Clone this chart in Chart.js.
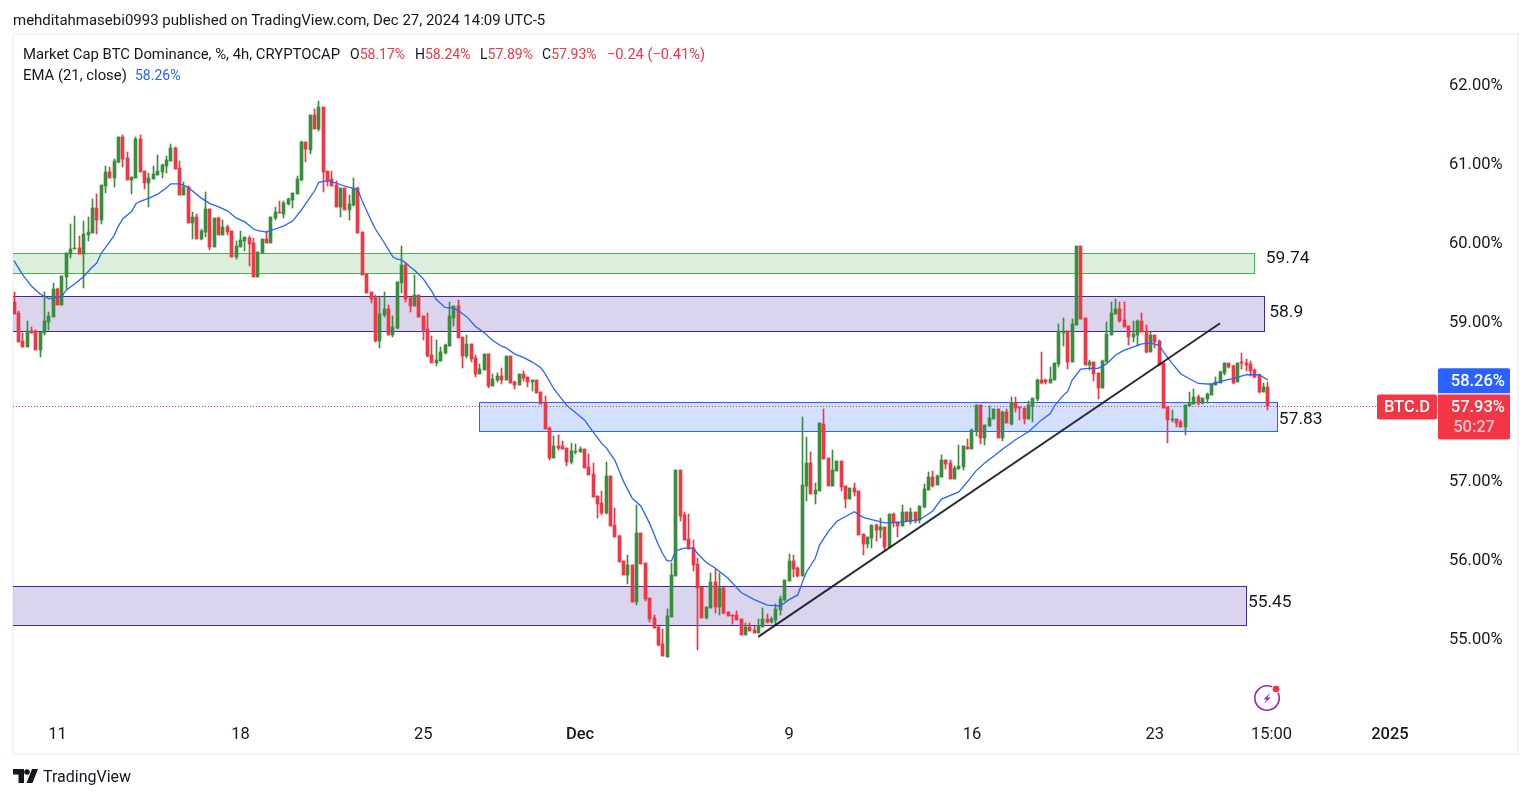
<!DOCTYPE html>
<html>
<head>
<meta charset="utf-8">
<title>BTC.D</title>
<script src="https://cdn.jsdelivr.net/npm/chart.js@4"></script>
<style>
    html, body { margin: 0; padding: 0; background: #fff; }
    body { width: 1530px; height: 798px; overflow: hidden; position: relative; font-family: Roboto, sans-serif; color: #131722; }
    #frame { position: absolute; left: 12px; top: 33px; width: 1503px; height: 718px; border: 2px solid #f0f3fa; }
    #wrap { position: absolute; left: 0; top: 0; width: 1530px; height: 798px; }
    .t { position: absolute; white-space: nowrap; font-size: 14px; line-height: 18px; }
    .red { color: #f23645; }
    .blue { color: #2962ff; }
    svg { position: absolute; }
</style>
</head>
<body>
<div id="frame"></div>
<div id="wrap"><canvas id="chart"></canvas></div>

<div class="t" style="left:13px;top:11px;font-size:15px">mehditahmasebi0993 published on TradingView.com, Dec 27, 2024 14:09 UTC-5</div>
<div class="t" style="left:23px;top:45px;font-size:14.85px">Market Cap BTC Dominance, %, 4h, CRYPTOCAP</div>
<div class="t" style="left:350px;top:45px">O<span class="red">58.17%</span></div>
<div class="t" style="left:415px;top:45px">H<span class="red">58.24%</span></div>
<div class="t" style="left:480px;top:45px">L<span class="red">57.89%</span></div>
<div class="t" style="left:542px;top:45px">C<span class="red">57.93%</span></div>
<div class="t red" style="left:607px;top:45px;font-size:14.6px">−0.24 (−0.41%)</div>
<div class="t" style="left:23px;top:66px;font-size:14.85px">EMA (21, close)</div>
<div class="t blue" style="left:135px;top:66px">58.26%</div>
<div class="t" style="left:43px;top:767px;font-size:16px;line-height:20px">TradingView</div>

<!-- TradingView logo -->
<svg style="left:13px;top:769px" width="25" height="14" viewBox="0 0 25 14">
    <path fill="#131722" d="M0 0h11v14H5.5V5.5H0z"/>
    <circle fill="#131722" cx="14" cy="3" r="2.8"/>
    <path fill="#131722" d="M19 0h6l-5.5 14h-6z"/>
</svg>
<!-- bolt badge -->
<svg style="left:1253px;top:683px" width="30" height="30" viewBox="0 0 30 30">
    <circle cx="14" cy="15" r="12.2" fill="none" stroke="#9c27b0" stroke-width="1.6"/>
    <path fill="#9c27b0" d="M17.5 9.5l-7 7h3.2l-3 4.5 7-6.5h-3.2z"/>
    <circle cx="23" cy="6" r="4" fill="#f23645" stroke="#fff" stroke-width="1"/>
</svg>

<script>
// 4h candles
const opens = [
    59.25,59.11,58.76,58.68,58.88,58.88,58.64,58.86,59.00,59.06,
    59.41,59.21,59.56,59.85,59.92,59.93,59.85,60.09,60.12,60.43,
    60.28,60.71,60.89,60.81,61.02,61.33,61.07,60.79,60.81,61.31,
    60.90,60.75,60.80,60.85,60.89,60.97,61.03,61.19,60.94,60.60,
    60.70,60.25,60.32,60.04,60.13,60.42,59.94,60.31,60.09,60.20,
    60.14,59.82,59.94,60.02,60.06,59.99,59.56,59.87,60.04,59.99,
    60.31,60.38,60.36,60.49,60.54,60.61,60.79,61.27,61.17,61.61,
    61.43,61.71,60.90,60.80,60.73,60.45,60.69,60.41,60.47,60.69,
    60.13,59.60,59.37,59.30,58.76,59.09,59.16,58.83,58.92,59.49,
    59.72,59.30,59.20,59.34,59.07,58.91,58.58,58.48,58.50,58.60,
    58.69,59.05,59.20,58.81,58.57,58.72,58.54,58.34,58.39,58.59,
    58.19,58.26,58.31,58.26,58.57,58.24,58.20,58.34,58.30,58.24,
    58.26,58.11,57.97,57.66,57.28,57.43,57.43,57.41,57.23,57.36,
    57.36,57.39,57.17,57.08,56.80,56.71,56.58,57.05,56.43,56.29,
    55.98,55.80,55.93,55.46,56.33,55.95,55.51,55.26,55.15,54.93,
    54.77,55.27,55.79,57.13,56.56,56.26,56.14,55.94,55.65,55.26,
    55.39,55.71,55.40,55.64,55.34,55.30,55.30,55.25,55.05,55.15,
    55.11,55.07,55.15,55.25,55.21,55.23,55.36,55.49,55.73,55.98,
    55.89,55.79,56.93,57.22,56.83,56.86,57.71,57.28,56.93,57.12,
    57.24,56.93,56.76,56.90,56.86,56.32,56.19,56.27,56.43,56.37,
    56.41,56.15,56.57,56.47,56.42,56.60,56.48,56.60,56.50,56.66,
    56.88,57.04,56.94,57.04,57.25,57.22,57.01,57.14,57.17,57.42,
    57.39,57.62,57.95,57.53,57.68,57.77,57.90,57.53,57.86,57.71,
    57.97,57.92,57.91,57.77,57.94,58.02,58.26,58.26,58.23,58.26,
    58.47,58.86,58.88,58.49,58.96,59.96,59.05,58.45,58.49,58.35,
    58.16,58.49,58.83,59.10,59.16,59.02,58.95,58.81,58.83,59.01,
    58.88,58.62,58.83,58.76,58.48,57.92,57.76,57.77,57.73,57.67,
    57.94,57.96,58.05,57.97,58.02,58.07,58.20,58.23,58.35,58.48,
    58.44,58.24,58.49,58.48,58.47,58.39,58.33,58.11,58.17
];
const highs = [
    59.38,59.13,58.86,59.01,58.93,58.89,58.87,59.38,59.12,59.49,
    59.42,59.58,59.87,60.23,60.33,60.08,60.27,60.32,60.55,60.61,
    60.73,60.97,60.95,61.05,61.33,61.36,61.14,60.83,61.33,61.36,
    60.90,60.88,60.97,61.10,60.99,61.09,61.24,61.21,61.03,60.76,
    60.71,60.38,60.36,60.17,60.64,60.42,60.31,60.32,60.28,60.22,
    60.14,60.02,60.14,60.07,60.08,60.06,59.88,60.04,60.14,60.32,
    60.45,60.52,60.52,60.56,60.62,60.84,61.28,61.27,61.61,61.69,
    61.79,61.71,60.90,60.90,60.78,60.69,60.69,60.60,60.81,60.70,
    60.13,59.60,59.37,59.34,59.32,59.38,59.21,59.07,59.50,59.96,
    59.74,59.31,59.59,59.34,59.07,59.11,58.82,58.77,58.68,58.72,
    59.25,59.20,59.27,58.81,58.83,58.72,58.58,58.47,58.59,58.59,
    58.34,58.35,58.42,58.57,58.57,58.25,58.34,58.38,58.30,58.26,
    58.26,58.11,58.06,57.67,57.56,57.57,57.49,57.41,57.47,57.46,
    57.42,57.39,57.33,57.22,56.80,56.86,57.23,57.05,56.65,56.31,
    55.98,56.05,55.93,56.69,56.33,55.95,55.51,55.30,55.17,55.12,
    55.37,55.95,57.13,57.13,56.60,56.57,56.24,56.02,55.65,55.40,
    55.83,55.88,55.83,55.65,55.34,55.30,55.35,55.25,55.20,55.20,
    55.16,55.25,55.39,55.31,55.27,55.43,55.54,55.74,56.07,56.05,
    55.90,57.80,57.54,57.36,56.96,57.72,57.90,57.28,57.38,57.24,
    57.24,56.93,56.90,56.96,56.86,56.32,56.28,56.43,56.45,56.52,
    56.41,56.57,56.58,56.47,56.69,56.60,56.65,56.60,56.67,56.95,
    57.10,57.11,57.06,57.32,57.25,57.25,57.18,57.44,57.43,57.52,
    57.65,57.95,57.95,57.70,57.94,57.90,57.90,57.87,57.90,58.05,
    58.05,57.92,57.91,58.00,58.04,58.28,58.62,58.28,58.43,58.48,
    58.97,59.05,58.88,59.03,59.96,59.96,59.05,58.52,58.49,58.35,
    58.52,59.00,59.25,59.29,59.25,59.25,58.95,59.01,59.02,59.11,
    58.96,58.87,58.83,58.77,58.48,57.92,57.89,57.77,57.76,57.95,
    58.11,58.15,58.07,58.04,58.10,58.21,58.30,58.38,58.48,58.48,
    58.45,58.48,58.60,58.53,58.50,58.40,58.34,58.23,58.24
];
const lows = [
    59.10,58.74,58.68,58.68,58.86,58.64,58.56,58.83,58.89,59.06,
    59.21,59.21,59.41,59.80,59.92,59.85,59.42,60.02,60.12,60.11,
    60.23,60.62,60.81,60.70,61.00,60.95,60.79,60.61,60.81,60.89,
    60.67,60.45,60.80,60.85,60.81,60.88,61.03,60.93,60.60,60.60,
    60.25,60.04,60.04,60.03,60.07,59.90,59.94,60.09,60.09,60.09,
    59.82,59.79,59.94,59.89,59.70,59.56,59.56,59.87,59.99,59.99,
    60.28,60.37,60.31,60.47,60.43,60.61,60.78,61.02,61.12,61.43,
    61.41,60.64,60.71,60.71,60.45,60.32,60.41,60.28,60.46,60.12,
    59.59,59.36,59.24,58.74,58.67,59.06,58.83,58.81,58.91,59.36,
    59.25,59.12,59.20,59.06,58.77,58.55,58.48,58.44,58.50,58.59,
    58.69,58.95,58.79,58.42,58.54,58.49,58.30,58.34,58.39,58.16,
    58.19,58.24,58.21,58.26,58.23,58.15,58.20,58.25,58.18,58.13,
    58.10,57.96,57.65,57.25,57.28,57.38,57.39,57.18,57.20,57.33,
    57.36,57.15,57.06,56.79,56.52,56.56,56.57,56.42,56.28,55.97,
    55.80,55.69,55.46,55.42,55.94,55.47,55.21,55.13,54.91,54.78,
    54.77,55.27,55.79,56.48,56.24,56.13,55.85,54.85,55.26,55.24,
    55.39,55.32,55.30,55.31,55.29,55.18,55.23,55.05,55.05,55.10,
    55.07,55.07,55.15,55.20,55.20,55.17,55.30,55.47,55.73,55.78,
    55.78,55.79,56.74,56.83,56.70,56.86,57.27,56.93,56.93,57.12,
    56.86,56.65,56.76,56.80,56.31,56.05,56.14,56.14,56.23,56.27,
    56.10,56.15,56.41,56.28,56.42,56.48,56.45,56.46,56.46,56.65,
    56.88,56.91,56.94,57.04,57.14,57.01,57.01,57.14,57.13,57.39,
    57.39,57.56,57.46,57.44,57.68,57.77,57.53,57.49,57.72,57.70,
    57.86,57.76,57.71,57.77,57.73,58.00,58.21,58.21,58.23,58.26,
    58.43,58.69,58.40,58.49,58.96,59.03,58.45,58.39,58.25,58.02,
    58.16,58.49,58.83,59.10,59.00,58.93,58.71,58.74,58.69,58.87,
    58.60,58.62,58.67,58.45,57.91,57.47,57.73,57.67,57.67,57.57,
    57.94,57.96,57.95,57.96,57.97,58.07,58.20,58.23,58.33,58.42,
    58.21,58.24,58.40,58.38,58.31,58.29,58.10,58.11,57.89
];
const closes = [
    59.10,58.74,58.68,58.88,58.86,58.64,58.87,59.01,59.07,59.41,
    59.21,59.58,59.87,59.92,59.93,59.85,60.11,60.13,60.43,60.28,
    60.73,60.89,60.81,61.03,61.33,61.05,60.79,60.83,61.31,60.89,
    60.75,60.81,60.86,60.90,60.98,61.04,61.19,60.93,60.60,60.70,
    60.25,60.32,60.04,60.14,60.42,59.94,60.31,60.09,60.20,60.13,
    59.82,59.96,60.03,60.07,59.98,59.56,59.88,60.04,59.99,60.32,
    60.38,60.37,60.50,60.55,60.62,60.80,61.27,61.18,61.61,61.43,
    61.71,60.89,60.78,60.71,60.45,60.69,60.41,60.49,60.69,60.12,
    59.59,59.36,59.29,58.76,59.10,59.16,58.83,58.93,59.50,59.72,
    59.29,59.20,59.34,59.06,58.90,58.57,58.48,58.52,58.62,58.71,
    59.07,59.20,58.79,58.57,58.72,58.53,58.34,58.40,58.59,58.19,
    58.28,58.31,58.26,58.57,58.23,58.20,58.34,58.29,58.24,58.26,
    58.10,57.96,57.65,57.28,57.43,57.40,57.39,57.23,57.37,57.37,
    57.39,57.15,57.06,56.79,56.70,56.58,57.05,56.42,56.28,55.97,
    55.80,55.93,55.46,56.33,55.94,55.50,55.25,55.13,54.92,54.78,
    55.28,55.80,57.13,56.55,56.24,56.13,55.93,55.64,55.26,55.40,
    55.71,55.40,55.64,55.32,55.29,55.29,55.23,55.05,55.15,55.10,
    55.07,55.16,55.25,55.21,55.25,55.37,55.50,55.74,55.98,55.88,
    55.79,56.94,57.22,56.83,56.88,57.72,57.27,56.93,57.13,57.24,
    56.91,56.76,56.90,56.85,56.31,56.19,56.28,56.43,56.37,56.41,
    56.15,56.57,56.46,56.42,56.60,56.48,56.60,56.48,56.67,56.89,
    57.04,56.93,57.05,57.25,57.20,57.01,57.15,57.18,57.43,57.39,
    57.63,57.95,57.53,57.70,57.78,57.90,57.53,57.86,57.72,57.97,
    57.91,57.91,57.77,57.95,58.04,58.26,58.23,58.24,58.28,58.48,
    58.88,58.88,58.49,58.97,59.96,59.03,58.45,58.49,58.34,58.16,
    58.50,58.85,59.11,59.16,59.01,58.93,58.81,58.85,59.01,58.87,
    58.62,58.83,58.74,58.45,57.91,57.76,57.77,57.72,57.67,57.95,
    57.97,58.05,57.97,58.04,58.09,58.21,58.24,58.37,58.48,58.43,
    58.23,58.48,58.48,58.45,58.38,58.30,58.11,58.18,57.93
];

// EMA (21) read at sample bars
const emaBars = [
    0,2,4,6,8,9,11,12,14,16,18,19,20,22,23,24,25,27,28,29,31,33,35,36,38,40,41,43,45,47,49,51,53,55,56,58,60,62,64,66,67,69,70,72,74,76,78,79,
    80,82,83,85,86,87,88,89,90,91,92,94,96,97,99,101,102,104,106,108,110,112,113,115,117,119,121,122,124,127,131,133,135,136,138,140,142,144,146,148,149,150,151,152,154,156,157,159,
    161,164,167,170,173,176,178,180,181,182,184,185,187,189,193,195,197,200,204,208,211,213,217,219,221,223,225,227,230,233,236,238,239,241,242,243,245,247,249,251,253,255,257,259,261,263,264,266,268,270,272,275,278,280,283,286,288
];
const emaValues = [
    59.77,59.59,59.45,59.35,59.29,59.30,59.32,59.40,59.48,59.57,59.69,59.74,59.86,60.01,60.09,60.21,60.30,60.39,60.49,60.52,60.56,60.61,60.69,60.74,60.74,60.70,60.65,60.56,60.49,60.45,60.40,60.31,60.26,60.17,60.15,60.13,60.17,60.21,60.27,60.41,60.49,60.65,60.76,60.78,60.75,60.71,60.68,60.66,
    60.52,60.28,60.17,60.00,59.91,59.82,59.79,59.78,59.74,59.69,59.65,59.54,59.38,59.28,59.18,59.17,59.14,59.06,58.94,58.86,58.76,58.69,58.67,58.59,58.55,58.49,58.42,58.34,58.15,57.94,57.76,57.61,57.46,57.41,57.25,56.98,56.77,56.67,56.45,56.18,56.07,55.98,55.98,56.11,56.14,56.14,56.07,55.96,
    55.89,55.76,55.58,55.49,55.42,55.41,55.49,55.55,55.70,55.84,56.01,56.18,56.35,56.48,56.60,56.53,56.50,56.46,56.47,56.50,56.61,56.76,56.85,56.98,57.12,57.22,57.30,57.39,57.51,57.61,57.76,57.84,57.94,58.07,58.12,58.26,58.40,58.41,58.41,58.47,58.58,58.64,58.68,58.72,58.73,58.70,58.62,58.47,58.34,58.28,58.22,58.21,58.26,58.28,58.33,58.33,58.26
];

// drawn zones: bar range, price range, label
const zoneFrom   = [-5, -5, 106.8, -5];
const zoneTo     = [284.8, 287, 290, 283];
const zoneTop    = [59.87, 59.32, 57.99, 55.66];
const zoneBottom = [59.61, 58.88, 57.62, 55.17];
const zoneLabels = ['59.74', '58.9', '57.83', '55.45'];
const zoneLabelBar = [287.5, 288.3, 290.5, 283.4];
const zoneLabelPrice = [59.82, 59.13, 57.78, 55.47];
const zoneColors = ['#4caf50', '#4527a0', '#2962ff', '#4527a0'];

// trend line
const trendBars = [170.9, 277];
const trendPrices = [55.02, 58.98];

const lastPrice = 57.93;
const lastEma = 58.26;

const yTicks = [55, 56, 57, 58, 59, 60, 61, 62];
const xTickBars = [10, 52, 94, 130, 178, 220, 262, 288.8, 316];
const xTickLabels = ['11', '18', '25', 'Dec', '9', '16', '23', '15:00', '2025'];
const xTickBold = ['Dec', '2025'];

const UP = '#388e3c';
const DOWN = '#f23645';

const candleColors = closes.map((c, i) => (c >= opens[i] ? UP : DOWN));
const wickData = highs.map((h, i) => ({ x: i, y: [lows[i], h] }));
const bodyData = opens.map((o, i) => ({ x: i, y: [Math.min(o, closes[i]), Math.max(o, closes[i])] }));
const emaData = emaBars.map((b, i) => ({ x: b, y: emaValues[i] }));
const trendData = trendBars.map((b, i) => ({ x: b, y: trendPrices[i] }));

function hexAlpha(hex, a) {
    const n = parseInt(hex.slice(1), 16);
    return 'rgba(' + (n >> 16) + ',' + ((n >> 8) & 255) + ',' + (n & 255) + ',' + a + ')';
}

// snap bars to whole pixels so the candles stay sharp
const snapBars = {
    id: 'snapBars',
    afterDatasetsUpdate(chart) {
        chart.data.datasets.forEach((ds, n) => {
            if (ds.type === 'line') return;
            chart.getDatasetMeta(n).data.forEach(el => {
                el.x = Math.floor(el.x) + 0.5;
                const top = Math.round(el.y);
                let bottom = Math.round(el.base);
                if (top === bottom) bottom = top + 1;
                el.y = top;
                el.base = bottom;
            });
        });
    }
};

const zones = {
    id: 'zones',
    beforeDatasetsDraw(chart) {
        const { ctx, chartArea, scales: { x, y } } = chart;
        ctx.save();
        ctx.beginPath();
        ctx.rect(chartArea.left, chartArea.top, chartArea.right - chartArea.left, chartArea.bottom - chartArea.top);
        ctx.clip();
        zoneFrom.forEach((from, i) => {
            const left = Math.round(x.getPixelForValue(from)) + 0.5;
            const right = Math.round(x.getPixelForValue(zoneTo[i])) + 0.5;
            const top = Math.round(y.getPixelForValue(zoneTop[i])) + 0.5;
            const bottom = Math.round(y.getPixelForValue(zoneBottom[i])) + 0.5;
            ctx.fillStyle = hexAlpha(zoneColors[i], 0.2);
            ctx.fillRect(left, top, right - left, bottom - top);
            ctx.strokeStyle = zoneColors[i];
            ctx.lineWidth = 1;
            ctx.strokeRect(left, top, right - left, bottom - top);
        });
        ctx.restore();
        // dotted last price line
        const py = Math.round(y.getPixelForValue(lastPrice)) + 0.5;
        ctx.save();
        ctx.strokeStyle = DOWN;
        ctx.lineWidth = 1;
        ctx.setLineDash([1, 2]);
        ctx.beginPath();
        ctx.moveTo(chartArea.left, py);
        ctx.lineTo(x.getPixelForValue(313), py);
        ctx.stroke();
        ctx.restore();
    },
    afterDraw(chart) {
        const { ctx, chartArea, scales: { x, y } } = chart;
        ctx.save();
        // zone labels
        ctx.fillStyle = '#131722';
        ctx.font = '17.4px Roboto';
        ctx.textAlign = 'left';
        ctx.textBaseline = 'middle';
        zoneLabels.forEach((txt, i) => {
            ctx.fillText(txt, x.getPixelForValue(zoneLabelBar[i]), y.getPixelForValue(zoneLabelPrice[i]) + 1.5);
        });

        // price tags on the right
        const tagLeft = chartArea.right + 5;
        const tagWidth = 72;
        const py = y.getPixelForValue(lastPrice);
        const ey = y.getPixelForValue(lastEma);
        ctx.fillStyle = '#2962ff';
        ctx.beginPath();
        ctx.roundRect(tagLeft, ey - 12, tagWidth, 25, [2, 2, 0, 0]);
        ctx.fill();
        ctx.fillStyle = DOWN;
        ctx.beginPath();
        ctx.roundRect(tagLeft, py - 12, tagWidth, 45, [0, 0, 2, 2]);
        ctx.fill();
        ctx.beginPath();
        ctx.roundRect(tagLeft - 61, py - 12, 60, 25, 2);
        ctx.fill();

        ctx.font = '500 16.5px Roboto';
        ctx.textAlign = 'center';
        ctx.fillStyle = '#fff';
        ctx.fillText('BTC.D', tagLeft - 31, py + 1.5);
        ctx.textAlign = 'right';
        ctx.fillText(lastEma.toFixed(2) + '%', tagLeft + 67, ey + 1.5);
        ctx.fillText(lastPrice.toFixed(2) + '%', tagLeft + 67, py + 1.5);
        ctx.fillStyle = 'rgba(255,255,255,0.7)';
        ctx.fillText('50:27', tagLeft + 57, py + 21.5);
        ctx.restore();
    }
};

new Chart(document.getElementById('chart'), {
    type: 'bar',
    data: {
        datasets: [
            { type: 'line', data: trendData, borderColor: 'rgba(19,23,34,0.9)', borderWidth: 2, pointRadius: 0, tension: 0, order: 0 },
            { type: 'line', data: emaData, borderColor: '#2962ff', borderWidth: 1.3, pointRadius: 0, tension: 0, order: 1 },
            { data: bodyData, backgroundColor: candleColors, barThickness: 3, grouped: false, order: 2 },
            { data: wickData, backgroundColor: candleColors, barThickness: 1, grouped: false, order: 3 }
        ]
    },
    options: {
        responsive: true,
        maintainAspectRatio: false,
        animation: false,
        events: [],
        layout: { padding: { left: 13, top: 36, right: 13, bottom: 45 } },
        plugins: { legend: { display: false }, tooltip: { enabled: false } },
        scales: {
            x: {
                type: 'linear',
                offset: false,
                min: -0.23,
                max: 325.9,
                grid: { display: false, drawTicks: false, offset: false },
                border: { display: false },
                afterBuildTicks(axis) { axis.ticks = xTickBars.map(v => ({ value: v })); },
                afterFit(axis) { axis.height = 35; },
                ticks: {
                    autoSkip: false,
                    maxRotation: 0,
                    padding: 7,
                    color: '#131722',
                    font: ctx => ({
                        family: 'Roboto',
                        size: 16.5,
                        weight: ctx.tick && xTickBold.includes(xTickLabels[xTickBars.indexOf(ctx.tick.value)]) ? '500' : '400'
                    }),
                    callback: v => xTickLabels[xTickBars.indexOf(v)]
                }
            },
            y: {
                position: 'right',
                min: 53.996,
                max: 62.607,
                grid: { display: false, drawTicks: false },
                border: { display: false },
                afterBuildTicks(axis) { axis.ticks = yTicks.map(v => ({ value: v })); },
                afterFit(axis) { axis.width = 84; },
                ticks: {
                    padding: 16,
                    labelOffset: 1.5,
                    color: '#131722',
                    font: { family: 'Roboto', size: 16.5 },
                    callback: v => v.toFixed(2) + '%'
                }
            }
        }
    },
    plugins: [snapBars, zones]
});
</script>
</body>
</html>
